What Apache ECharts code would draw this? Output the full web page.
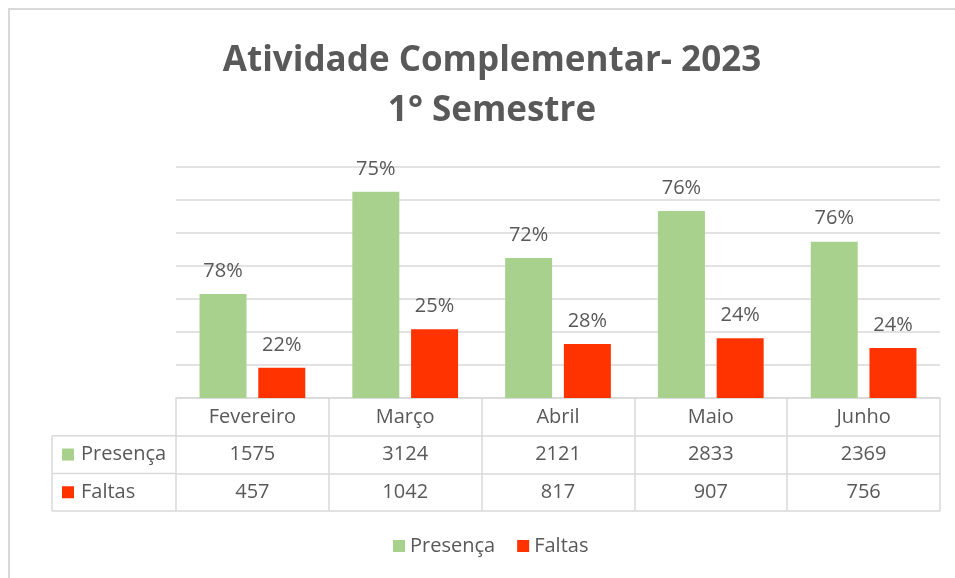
<!DOCTYPE html>
<html>
<head>
<meta charset="utf-8">
<title>Atividade Complementar 2023</title>
<script src="https://cdn.jsdelivr.net/npm/echarts@6/dist/echarts.min.js"></script>
<style>
  html, body { margin: 0; padding: 0; background: #fff; }
  #chart { width: 955px; height: 578px; }
</style>
</head>
<body>
<div id="chart"></div>
<script>
// dados
var months = ["Fevereiro", "Março", "Abril", "Maio", "Junho"];
var presenca = [1575, 3124, 2121, 2833, 2369];
var faltas = [457, 1042, 817, 907, 756];
var presencaPct = ["78%", "75%", "72%", "76%", "76%"];
var faltasPct = ["22%", "25%", "28%", "24%", "24%"];

var GREEN = "#A9D18E";
var RED = "#FF3300";
var TEXT = "#595959";
var LINE = "#D9D9D9";
var FONT = "'Open Sans', sans-serif";
var FS = 20;

// layout
var gridLeft = 176, gridRight = 15, gridTop = 167, gridBottom = 180;
var rowH = 37.7;
var tableLeft = 52;
var axisY = 578 - gridBottom;

var myChart = echarts.init(document.getElementById("chart"));

function rowAxis(data, offset, showTick) {
  return {
    type: "category",
    position: "bottom",
    offset: offset,
    data: data,
    axisLine: { show: true, lineStyle: { color: LINE, width: 1.5 } },
    axisTick: showTick
      ? { show: true, length: rowH * 3, lineStyle: { color: LINE, width: 1.5 } }
      : { show: false },
    axisLabel: {
      show: data.length > 0,
      color: TEXT,
      fontFamily: FONT,
      fontSize: FS,
      verticalAlign: "middle",
      margin: rowH / 2,
      interval: 0
    }
  };
}

var option = {
  backgroundColor: "#fff",
  title: {
    text: "Atividade Complementar- 2023\n1° Semestre",
    left: 487,
    top: 31,
    textAlign: "center",
    textStyle: {
      color: TEXT,
      fontFamily: FONT,
      fontWeight: "bold",
      fontSize: 35,
      lineHeight: 50
    }
  },
  legend: {
    data: ["Presença", "Faltas"],
    bottom: 17,
    left: 388,
    itemWidth: 12,
    itemHeight: 12,
    itemGap: 22,
    icon: "rect",
    textStyle: { color: TEXT, fontFamily: FONT, fontSize: FS }
  },
  grid: {
    left: gridLeft,
    right: gridRight,
    top: gridTop,
    bottom: gridBottom
  },
  xAxis: [
    rowAxis(months, 0, true),
    rowAxis(presenca.map(String), rowH, false),
    rowAxis(faltas.map(String), rowH * 2, false),
    rowAxis([], rowH * 3, false)
  ],
  yAxis: {
    type: "value",
    min: 0,
    max: 3500,
    interval: 500,
    axisLine: { show: false },
    axisTick: { show: false },
    axisLabel: { show: false },
    splitLine: { lineStyle: { color: LINE, width: 1.5 } }
  },
  series: [
    {
      name: "Presença",
      type: "bar",
      data: presenca,
      barWidth: 47,
      barGap: "25%",
      itemStyle: { color: GREEN },
      label: {
        show: true,
        position: "top",
        distance: 13,
        color: TEXT,
        fontFamily: FONT,
        fontSize: FS,
        formatter: function (p) { return presencaPct[p.dataIndex]; }
      }
    },
    {
      name: "Faltas",
      type: "bar",
      data: faltas,
      barWidth: 47,
      itemStyle: { color: RED },
      label: {
        show: true,
        position: "top",
        distance: 13,
        color: TEXT,
        fontFamily: FONT,
        fontSize: FS,
        formatter: function (p) { return faltasPct[p.dataIndex]; }
      }
    }
  ],
  graphic: []
};

// moldura e parte esquerda da tabela
var lineStyle = { stroke: LINE, lineWidth: 1.5 };
var g = [
  { type: "rect", shape: { x: 9, y: 9, width: 960, height: 600 }, style: { fill: null, stroke: "#D9D9D9", lineWidth: 2 }, silent: true }
];
for (var i = 1; i <= 3; i++) {
  g.push({ type: "line", shape: { x1: tableLeft, y1: axisY + rowH * i, x2: gridLeft, y2: axisY + rowH * i }, style: lineStyle, silent: true });
}
g.push({ type: "line", shape: { x1: tableLeft, y1: axisY + rowH, x2: tableLeft, y2: axisY + rowH * 3 }, style: lineStyle, silent: true });
var rowNames = ["Presença", "Faltas"];
var rowColors = [GREEN, RED];
for (var r = 0; r < 2; r++) {
  var cy = axisY + rowH * (r + 1.5);
  g.push({ type: "rect", shape: { x: tableLeft + 10, y: cy - 6, width: 12, height: 12 }, style: { fill: rowColors[r] }, silent: true });
  g.push({ type: "text", x: tableLeft + 29, y: cy, style: { text: rowNames[r], fill: TEXT, font: FS + "px " + FONT, verticalAlign: "middle", align: "left" }, silent: true });
}
option.graphic = g;

myChart.setOption(option);
</script>
</body>
</html>
